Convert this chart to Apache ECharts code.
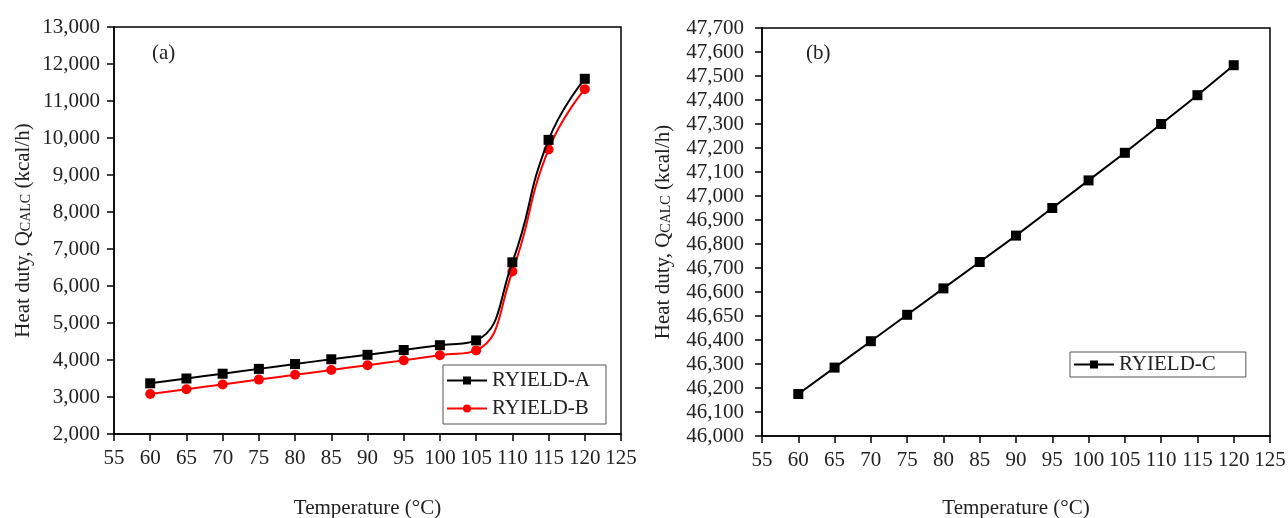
<!DOCTYPE html>
<html>
<head>
<meta charset="utf-8">
<script src="https://cdn.jsdelivr.net/npm/echarts@6/dist/echarts.min.js"></script>
<style>
html,body{margin:0;padding:0;background:#fff;}
#c{width:1288px;height:518px;}
</style>
</head>
<body>
<div id="c"></div>
<script>
// ---- data ----
const temps = [60, 65, 70, 75, 80, 85, 90, 95, 100, 105, 110, 115, 120];
const ryieldA = [3370, 3500, 3630, 3760, 3890, 4020, 4140, 4270, 4400, 4530, 6640, 9950, 11600];
const ryieldB = [3080, 3210, 3340, 3470, 3600, 3730, 3860, 3990, 4130, 4260, 6390, 9690, 11320];
const ryieldC = [46175, 46285, 46395, 46505, 46615, 46725, 46835, 46950, 47065, 47180, 47300, 47420, 47545];
const xTickLabels = ['55','60','65','70','75','80','85','90','95','100','105','110','115','120','125'];
const yTickLabelsA = ['2,000','3,000','4,000','5,000','6,000','7,000','8,000','9,000','10,000','11,000','12,000','13,000'];
const yTickLabelsB = ['46,000','46,100','46,200','46,300','46,400','46,650','46,600','46,700','46,800','46,900','47,000','47,100','47,200','47,300','47,400','47,500','47,600','47,700'];
const seriesNames = ['RYIELD-A', 'RYIELD-B', 'RYIELD-C'];
const panelLabels = ['(a)', '(b)'];

const FONT = '"Liberation Serif", "DejaVu Serif", serif';
const TXT = '#222';
const FS = 21;

function pairs(xs, ys) { return xs.map((x, i) => [x, ys[i]]); }

function xAxisCfg(gridIndex, gap) {
  return {
    type: 'value', gridIndex: gridIndex, min: 55, max: 125, interval: 5,
    name: 'Temperature (°C)', nameLocation: 'middle', nameGap: gap,
    nameTextStyle: { fontFamily: FONT, fontSize: FS, color: TXT },
    axisLine: { show: true, lineStyle: { color: '#000', width: 1.5 } },
    axisTick: { show: true, inside: false, length: 7, lineStyle: { color: '#000', width: 1.5 } },
    axisLabel: { fontFamily: FONT, fontSize: FS, color: TXT, margin: 14,
      formatter: v => xTickLabels[Math.round((v - 55) / 5)] },
    splitLine: { show: false }
  };
}
function yAxisCfg(gridIndex, min, max, interval, labels, gap, margin) {
  return {
    type: 'value', gridIndex: gridIndex, min: min, max: max, interval: interval,
    name: 'Heat duty, {q|Q}{s|CALC}{q| (kcal/h)}', nameLocation: 'middle', nameGap: gap, nameRotate: 90,
    nameTextStyle: { fontFamily: FONT, fontSize: FS, color: TXT,
      rich: { q: { fontFamily: FONT, fontSize: FS, color: TXT },
              s: { fontFamily: FONT, fontSize: 14, color: TXT, padding: [6, 0, 0, 0] } } },
    axisLine: { show: true, lineStyle: { color: '#000', width: 1.5 } },
    axisTick: { show: true, inside: false, length: 7, lineStyle: { color: '#000', width: 1.5 } },
    axisLabel: { fontFamily: FONT, fontSize: FS, color: TXT, margin: margin,
      formatter: v => labels[Math.round((v - min) / interval)] },
    splitLine: { show: false }
  };
}

const chart = echarts.init(document.getElementById('c'), null, { renderer: 'canvas' });
chart.setOption({
  animation: false,
  backgroundColor: '#fff',
  grid: [
    { left: 114, right: 667, top: 27, bottom: 84, containLabel: false, outerBoundsMode: 'none',
      show: true, borderColor: '#000', borderWidth: 1.5, backgroundColor: 'transparent' },
    { left: 762, right: 18, top: 28, bottom: 82, containLabel: false, outerBoundsMode: 'none',
      show: true, borderColor: '#000', borderWidth: 1.5, backgroundColor: 'transparent' }
  ],
  xAxis: [ xAxisCfg(0, 64), xAxisCfg(1, 62) ],
  yAxis: [
    yAxisCfg(0, 2000, 13000, 1000, yTickLabelsA, 80, 14),
    yAxisCfg(1, 46000, 47700, 100, yTickLabelsB, 88, 18)
  ],
  legend: [
    { data: [seriesNames[0], seriesNames[1]], orient: 'vertical', left: 443, top: 365,
      borderColor: '#555', borderWidth: 1, padding: [5, 16, 5, 3], itemGap: 7,
      itemWidth: 40, itemHeight: 10, textStyle: { fontFamily: FONT, fontSize: FS, color: TXT } },
    { data: [seriesNames[2]], orient: 'vertical', left: 1070, top: 352,
      borderColor: '#555', borderWidth: 1, padding: [2, 30, 2, 3],
      itemWidth: 40, itemHeight: 10, textStyle: { fontFamily: FONT, fontSize: FS, color: TXT } }
  ],
  graphic: [
    { type: 'text', left: 152, top: 43, style: { text: panelLabels[0], font: FS + 'px ' + FONT, fill: TXT } },
    { type: 'text', left: 806, top: 43, style: { text: panelLabels[1], font: FS + 'px ' + FONT, fill: TXT } }
  ],
  series: [
    { name: seriesNames[0], type: 'line', xAxisIndex: 0, yAxisIndex: 0, data: pairs(temps, ryieldA),
      smooth: 0.5, symbol: 'rect', symbolSize: 10, color: '#000',
      lineStyle: { color: '#000', width: 2 }, itemStyle: { color: '#000' }, z: 3 },
    { name: seriesNames[1], type: 'line', xAxisIndex: 0, yAxisIndex: 0, data: pairs(temps, ryieldB),
      smooth: 0.5, symbol: 'circle', symbolSize: 10, color: '#ff0000',
      lineStyle: { color: '#ff0000', width: 2 }, itemStyle: { color: '#ff0000' }, z: 2 },
    { name: seriesNames[2], type: 'line', xAxisIndex: 1, yAxisIndex: 1, data: pairs(temps, ryieldC),
      smooth: false, symbol: 'rect', symbolSize: 10, color: '#000',
      lineStyle: { color: '#000', width: 2 }, itemStyle: { color: '#000' } }
  ]
});
</script>
</body>
</html>
